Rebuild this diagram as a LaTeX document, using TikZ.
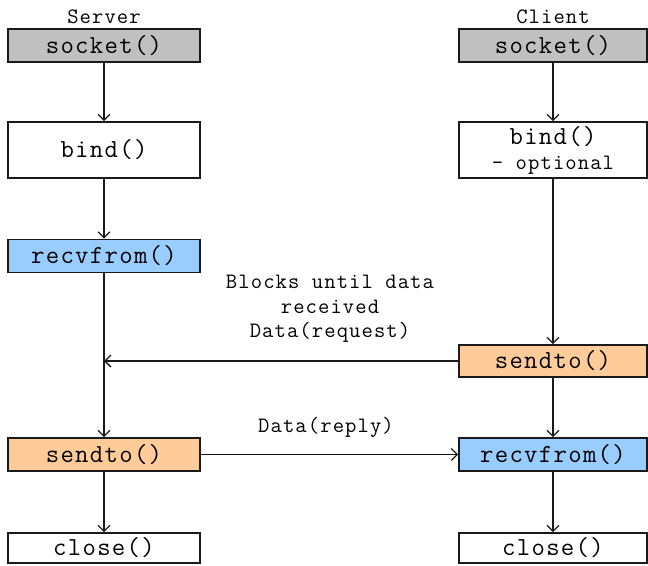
\documentclass[tikz,border=0pt]{standalone}
\usepackage{fontspec}
\setmonofont{Latin Modern Mono}[LetterSpace=5]
\usetikzlibrary{arrows.meta, positioning}
\definecolor{cgray}{HTML}{C0C0C0}
\definecolor{cblue}{HTML}{99CCFF}
\definecolor{corange}{HTML}{FFCC99}
\definecolor{cline}{HTML}{1A1A1A}
\newcommand\bigcode{\ttfamily\fontsize{26}{28}\selectfont}
\newcommand\smallcode{\ttfamily\fontsize{22}{24.5}\selectfont}
\tikzset{
  box/.style={draw=cline, fill=#1, line width=1.6pt, align=center, inner sep=0pt, minimum height=33pt, font=\bigcode},
  box/.default=white,
  srv/.style={minimum width=192pt},
  cli/.style={minimum width=188pt},
  arrow/.style={-{Straight Barb[length=6pt, width=12pt]}, draw=cline, line width=1.3pt},
  title/.style={font=\smallcode},
  note/.style={font=\smallcode, align=center},
}

\begin{document}
\begin{tikzpicture}[x=1pt, y=-1pt]
  \useasboundingbox (0,0) rectangle (648,565);
  % server side
  \node[title] (st) at (104,17) {Server};
  \node[box=cgray, srv] (ssock) at (104,45.5) {socket()};
  \node[box, srv, minimum height=56pt] (sbind) at (104,150) {bind()};
  \node[box=cblue, srv] (srecv) at (104,256) {recvfrom()};
  \node[box=corange, srv] (ssend) at (104,454.5) {sendto()};
  \node[box, srv, minimum height=30pt] (sclose) at (104,548) {close()};
  \draw[arrow] (ssock) -- (sbind);
  \draw[arrow] (sbind) -- (srecv);
  \draw[arrow] (srecv) -- (ssend);
  \draw[arrow] (ssend) -- (sclose);
  % client side
  \node[title] (ct) at (553,17) {Client};
  \node[box=cgray, cli] (csock) at (553,45.5) {socket()};
  \node[box, cli, minimum height=56pt] (cbind) at (553,150) {bind()\\[-3pt]{\smallcode - optional}};
  \node[box=corange, cli, minimum height=32pt] (csend) at (553,361) {sendto()};
  \node[box=cblue, cli] (crecv) at (553,454.5) {recvfrom()};
  \node[box, cli, minimum height=30pt] (cclose) at (553,548) {close()};
  \draw[arrow] (csock) -- (cbind);
  \draw[arrow] (cbind) -- (csend);
  \draw[arrow] (csend) -- (crecv);
  \draw[arrow] (crecv) -- (cclose);
  % data going across
  \coordinate (shit) at (srecv.south |- csend.west);
  \draw[arrow] (csend.west) -- (shit);
  \draw[arrow] (ssend) -- (crecv);
  \node[note] (req) at (330,309) {Blocks until data\\received\\Data(request)};
  \node[note] (rep) at (326,427) {Data(reply)};
\end{tikzpicture}
\end{document}
